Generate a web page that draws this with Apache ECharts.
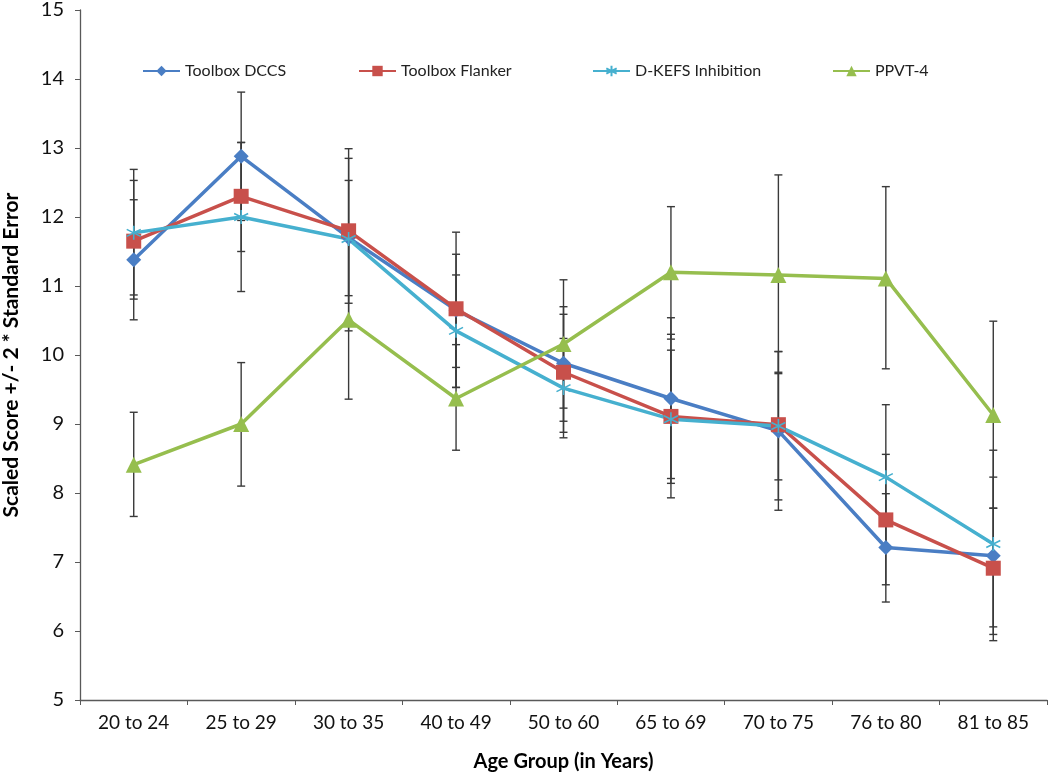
<!DOCTYPE html>
<html>
<head>
<meta charset="utf-8">
<script src="https://cdn.jsdelivr.net/npm/echarts@6/dist/echarts.min.js"></script>
<style>
  html, body { margin: 0; padding: 0; background: #fff; }
  #chart { width: 1050px; height: 774px; }
</style>
</head>
<body>
<div id="chart"></div>
<script>
const ageGroups = ['20 to 24', '25 to 29', '30 to 35', '40 to 49', '50 to 60', '65 to 69', '70 to 75', '76 to 80', '81 to 85'];

// means and +/- 2 SE limits
const dccs     = [11.38, 12.88, 11.70, 10.65, 9.88, 9.37, 8.90, 7.21, 7.09];
const dccsLow  = [10.51, 11.95, 10.86, 9.82, 9.04, 8.21, 7.75, 6.42, 5.95];
const dccsHigh = [12.25, 13.81, 12.53, 11.46, 10.70, 10.54, 10.05, 7.99, 8.23];

const flanker     = [11.65, 12.30, 11.80, 10.67, 9.75, 9.11, 8.99, 7.61, 6.91];
const flankerLow  = [10.81, 11.50, 10.75, 9.53, 8.88, 7.93, 7.90, 6.67, 6.06];
const flankerHigh = [12.53, 13.08, 12.85, 11.78, 10.59, 10.30, 10.05, 8.56, 7.78];

const dkefs     = [11.77, 12.00, 11.68, 10.35, 9.52, 9.07, 8.97, 8.23, 7.26];
const dkefsLow  = [10.87, 10.92, 10.35, 9.53, 8.80, 8.14, 8.19, 7.18, 5.86];
const dkefsHigh = [12.69, 13.08, 12.99, 11.16, 10.24, 10.07, 9.75, 9.28, 8.62];

const ppvt     = [8.41, 9.00, 10.51, 9.37, 10.16, 11.20, 11.16, 11.11, 9.13];
const ppvtLow  = [7.66, 8.10, 9.36, 8.62, 9.23, 10.23, 9.73, 9.80, 7.78];
const ppvtHigh = [9.17, 9.89, 11.66, 10.15, 11.09, 12.15, 12.61, 12.44, 10.49];

const FONT = 'Lato, "Open Sans", sans-serif';
const axisColor = '#595959';
const starPath = 'path://M5,0L5,10M0,2.5L10,7.5M0,7.5L10,2.5';

function errorBars(low, high) {
    return {
        type: 'custom',
        z: 1,
        silent: true,
        encode: { x: 0, y: [1, 2] },
        data: low.map((v, i) => [i, v, high[i]]),
        renderItem: function (params, api) {
            const i = api.value(0);
            const lo = api.coord([i, api.value(1)]);
            const hi = api.coord([i, api.value(2)]);
            const half = 4;
            const style = { stroke: '#3a3a3a', lineWidth: 1.4 };
            return {
                type: 'group',
                children: [
                    { type: 'line', shape: { x1: hi[0], y1: hi[1], x2: lo[0], y2: lo[1] }, style: style },
                    { type: 'line', shape: { x1: hi[0] - half, y1: hi[1], x2: hi[0] + half, y2: hi[1] }, style: style },
                    { type: 'line', shape: { x1: lo[0] - half, y1: lo[1], x2: lo[0] + half, y2: lo[1] }, style: style }
                ]
            };
        }
    };
}

function lineSeries(name, data, color, symbol, size, extra) {
    return Object.assign({
        name: name,
        type: 'line',
        z: 3,
        data: data,
        symbol: symbol,
        symbolSize: size,
        lineStyle: { color: color, width: 3.5 },
        itemStyle: { color: color }
    }, extra || {});
}

const legendText = { fontFamily: FONT, fontSize: 16, color: '#222' };
function legendAt(name, left) {
    return {
        data: [name],
        left: left,
        top: 58,
        itemWidth: 37,
        itemHeight: 13,
        itemGap: 10,
        textStyle: legendText
    };
}

const chart = echarts.init(document.getElementById('chart'));
chart.setOption({
    animation: false,
    backgroundColor: '#fff',
    legend: [
        legendAt('Toolbox DCCS', 137),
        legendAt('Toolbox Flanker', 353),
        legendAt('D-KEFS Inhibition', 587),
        legendAt('PPVT-4', 827)
    ],
    grid: { left: 80, right: 3, top: 10, bottom: 74, outerBoundsMode: 'none' },
    xAxis: {
        type: 'category',
        data: ageGroups,
        boundaryGap: true,
        name: 'Age Group (in Years)',
        nameLocation: 'middle',
        nameGap: 52,
        nameTextStyle: { fontFamily: FONT, fontSize: 20, fontWeight: 'bold', color: '#000' },
        axisLine: { lineStyle: { color: axisColor, width: 1.3 } },
        axisTick: { show: true, length: 5, alignWithLabel: false, lineStyle: { color: axisColor } },
        axisLabel: { fontFamily: FONT, fontSize: 19, color: '#111', margin: 13 },
        splitLine: { show: false }
    },
    yAxis: {
        type: 'value',
        min: 5,
        max: 15,
        interval: 1,
        name: 'Scaled Score +/- 2 * Standard Error',
        nameLocation: 'middle',
        nameGap: 58,
        nameTextStyle: { fontFamily: FONT, fontSize: 21, fontWeight: 'bold', color: '#000' },
        axisLine: { show: true, lineStyle: { color: axisColor, width: 1.3 } },
        axisTick: { show: true, length: 5, lineStyle: { color: axisColor } },
        axisLabel: { fontFamily: FONT, fontSize: 20, color: '#111', margin: 16 },
        splitLine: { show: false }
    },
    series: [
        errorBars(dccsLow, dccsHigh),
        errorBars(flankerLow, flankerHigh),
        errorBars(dkefsLow, dkefsHigh),
        errorBars(ppvtLow, ppvtHigh),
        lineSeries('Toolbox DCCS', dccs, '#4A7EC4', 'diamond', 15),
        lineSeries('Toolbox Flanker', flanker, '#C8504B', 'rect', 15),
        lineSeries('D-KEFS Inhibition', dkefs, '#46B0CF', starPath, 14, {
            itemStyle: { color: '#46B0CF', borderColor: '#46B0CF', borderWidth: 1.6 }
        }),
        lineSeries('PPVT-4', ppvt, '#96BE4E', 'triangle', 16)
    ]
});
</script>
</body>
</html>
